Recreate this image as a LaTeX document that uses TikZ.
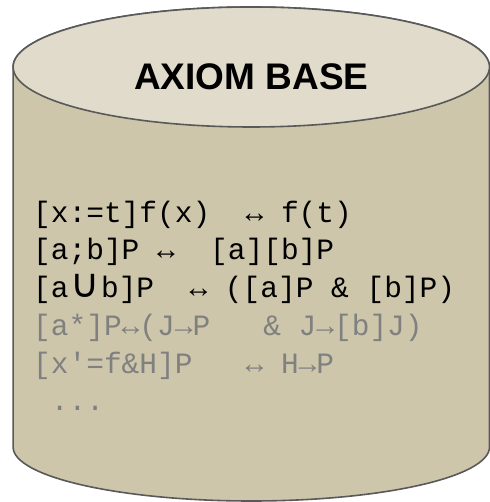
\documentclass[tikz,border=0pt]{standalone}
\usepackage{fontspec}
\setmainfont{Liberation Sans}
\newfontfamily\axmono{Liberation Mono}
\newfontfamily\axsym{DejaVu Sans}
\usepackage{tikz}
\definecolor{colTop}{RGB}{224,219,202}
\definecolor{colBody}{RGB}{205,198,171}
\definecolor{colEdge}{RGB}{89,89,89}
\definecolor{colFaded}{RGB}{128,128,128}
\newcommand{\cupsym}{\makebox[1.1em]{\axsym\fontsize{40}{44}\selectfont ∪}}

\begin{document}
\begin{tikzpicture}[x=1pt, y=1pt,
    axiom/.style={anchor=base west, inner sep=0pt,
                  font=\axmono\fontsize{29.5}{35}\selectfont},
    faded/.style={axiom, text=colFaded}]

\useasboundingbox (0,0) rectangle (489,502);

\def\cx{251.3}
\def\rx{238.2}
\def\ytop{435}
\def\ybot{55}
\def\xl{33}

% Corps du cylindre
\draw[colEdge, line width=1.6pt, fill=colBody]
    (\cx-\rx, \ytop) -- (\cx-\rx, \ybot)
    arc[start angle=180, end angle=360, x radius=\rx, y radius=54]
    -- (\cx+\rx, \ytop)
    arc[start angle=0, end angle=180, x radius=\rx, y radius=60] -- cycle;

% Couvercle
\draw[colEdge, line width=1.6pt, fill=colTop]
    (\cx, \ytop) ellipse [x radius=\rx, y radius=60];

% Titre
\node[anchor=base, inner sep=0pt, font=\bfseries\fontsize{37}{44}\selectfont]
    (title) at (\cx, 412) {AXIOM BASE};

% Axiomes
\node[axiom] (ax1) at (\xl, 279) {[x:=t]f(x)~~↔~f(t)};
\node[axiom] (ax2) at (\xl, 242) {[a;b]P~↔~~[a][b]P};
\node[axiom] (ax3) at (\xl, 204) {[a\cupsym b]P~~↔~([a]P~\&~[b]P)};
\node[faded] (ax4) at (\xl, 166) {[a*]P↔(J→P~~~\&~J→[b]J)};
\node[faded] (ax5) at (\xl, 128) {[x′=f\&H]P~~~↔~H→P};
\node[faded] (dots) at (\xl, 91) {~...};

\end{tikzpicture}
\end{document}
